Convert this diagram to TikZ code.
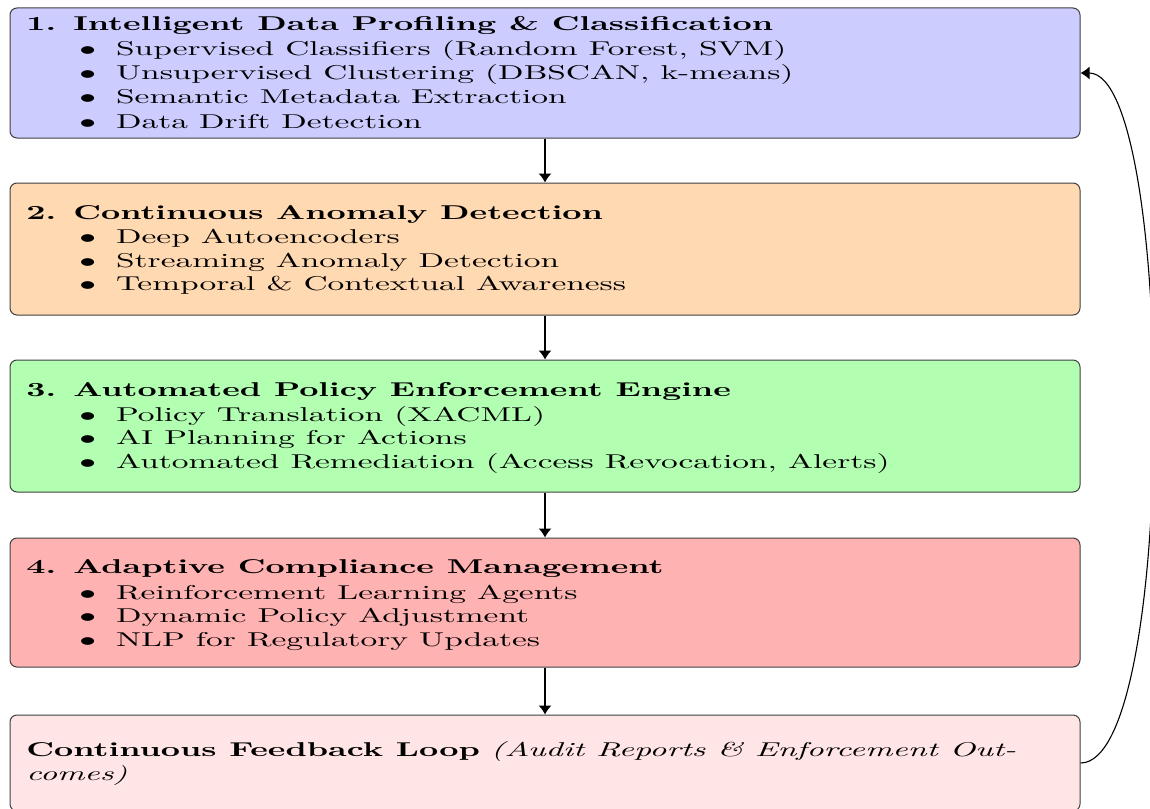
\documentclass[tikz,border=0pt]{standalone}
\usepackage{graphicx}
\usetikzlibrary{arrows.meta}
\colorlet{cone}{blue!20}
\colorlet{ctwo}{orange!30}
\colorlet{cthree}{green!30}
\colorlet{cfour}{red!30}
\colorlet{cfive}{red!10}
\newcommand{\sx}[1]{\scalebox{1.67}[1]{#1}}
\newcommand{\bul}{\makebox[11pt][l]{$\bullet$}}
\begin{document}
\begin{tikzpicture}[x=0.5pt,y=-0.5pt,
  stage/.style={draw=black!75, line width=0.5pt, rounded corners=3.5pt, minimum width=535pt, inner sep=0pt},
  head/.style={anchor=base west, inner sep=0pt, font=\bfseries},
  item/.style={anchor=base west, inner sep=0pt},
  flow/.style={-{Latex[length=4.5pt,width=6.5pt]}, line width=0.55pt}]
\useasboundingbox (0,0) rectangle (1150,808);
\fill[white] (0,0) rectangle (1150,808);

\node[stage, fill=cone, minimum height=65pt] (s1) at (545,73) {};
\node[stage, fill=ctwo, minimum height=66pt] (s2) at (545,249) {};
\node[stage, fill=cthree, minimum height=66pt] (s3) at (545,426) {};
\node[stage, fill=cfour, minimum height=64.5pt] (s4) at (545,602.5) {};
\node[stage, fill=cfive, minimum height=48pt] (s5) at (545,763) {};

% box 1
\node[head] (h1) at (26,31) {\sx{1. Intelligent Data Profiling \& Classification}};
\node[item] (i11) at (79,55.5) {\sx{\bul Supervised Classifiers (Random Forest, SVM)}};
\node[item] (i12) at (79,80) {\sx{\bul Unsupervised Clustering (DBSCAN, k-means)}};
\node[item] (i13) at (79,104) {\sx{\bul Semantic Metadata Extraction}};
\node[item] (i14) at (79,128) {\sx{\bul Data Drift Detection}};

% box 2
\node[head] (h2) at (26,219) {\sx{2. Continuous Anomaly Detection}};
\node[item] (i21) at (79,243.5) {\sx{\bul Deep Autoencoders}};
\node[item] (i22) at (79,267) {\sx{\bul Streaming Anomaly Detection}};
\node[item] (i23) at (79,290.5) {\sx{\bul Temporal \& Contextual Awareness}};

% box 3
\node[head] (h3) at (26,396) {\sx{3. Automated Policy Enforcement Engine}};
\node[item] (i31) at (79,421) {\sx{\bul Policy Translation (XACML)}};
\node[item] (i32) at (79,444.5) {\sx{\bul AI Planning for Actions}};
\node[item] (i33) at (79,468) {\sx{\bul Automated Remediation (Access Revocation, Alerts)}};

% box 4
\node[head] (h4) at (26,573) {\sx{4. Adaptive Compliance Management}};
\node[item] (i41) at (79,599) {\sx{\bul Reinforcement Learning Agents}};
\node[item] (i42) at (79,622.5) {\sx{\bul Dynamic Policy Adjustment}};
\node[item] (i43) at (79,646) {\sx{\bul NLP for Regulatory Updates}};

% box 5
\node[item] (t51) at (26,756) {\sx{\textbf{Continuous Feedback Loop} \textit{(Audit Reports \& Enforcement Out-}}};
\node[item] (t52) at (26,780) {\sx{\textit{comes)}}};

% connectors
\draw[flow] (s1.south) -- (s2.north);
\draw[flow] (s2.south) -- (s3.north);
\draw[flow] (s3.south) -- (s4.north);
\draw[flow] (s4.south) -- (s5.north);
\draw[flow] (s5.east) .. controls +(98,0) and +(95,0) .. (s1.east);
\end{tikzpicture}
\end{document}
